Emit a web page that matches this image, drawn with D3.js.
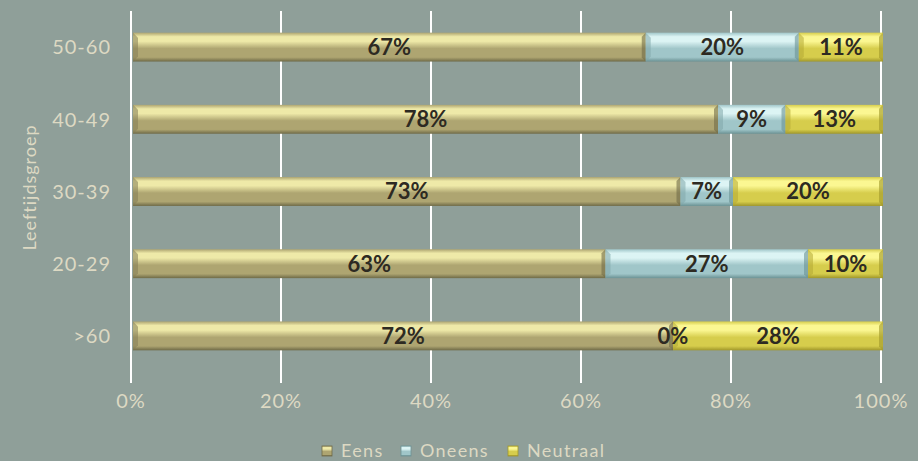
<!DOCTYPE html>
<html>
<head>
<meta charset="utf-8">
<script src="https://cdn.jsdelivr.net/npm/d3@7"></script>
<style>
  html, body { margin: 0; padding: 0; background: #8f9f99; }
  svg { display: block; }
  text { font-family: "Lato", "Open Sans", sans-serif; }
</style>
</head>
<body>
<svg id="chart" width="918" height="461"></svg>
<script>
// Age groups, top to bottom
const categories = ["50-60", "40-49", "30-39", "20-29", ">60"];
// Answers per age group (percent)
const eens     = [67, 78, 73, 63, 72];
const oneens   = [20,  9,  7, 27,  0];
const neutraal = [11, 13, 20, 10, 28];
const seriesNames = ["Eens", "Oneens", "Neutraal"];
const xTicks = [0, 0.2, 0.4, 0.6, 0.8, 1];
const axisTitle = "Leeftijdsgroep";

const palette = {
  Eens:     { top: "#eee9a8", mid: "#aea571", bot: "#6f6a47", edge: "#857e55" },
  Oneens:   { top: "#dcf4f4", mid: "#a0c6c9", bot: "#6b9294", edge: "#82a8aa" },
  Neutraal: { top: "#fbf792", mid: "#d6cd4c", bot: "#a0972a", edge: "#b4aa34" }
};

const rows = categories.map((c, i) => ({ cat: c, Eens: eens[i], Oneens: oneens[i], Neutraal: neutraal[i] }));
const stacked = d3.stack().keys(seriesNames).offset(d3.stackOffsetExpand)(rows);

const svg = d3.select("#chart");
const margin = { left: 132, right: 36, top: 11, bottom: 89 };
const W = 918, H = 461;

const x = d3.scaleLinear().domain([0, 1]).range([margin.left, W - margin.right]);
const y = d3.scaleBand().domain(categories).range([margin.top, H - margin.bottom]).paddingInner(0.6).paddingOuter(0.3);

// gradients
const defs = svg.append("defs");
seriesNames.forEach(k => {
  const g = defs.append("linearGradient").attr("id", "g-" + k)
    .attr("x1", 0).attr("y1", 0).attr("x2", 0).attr("y2", 1);
  const p = palette[k];
  g.append("stop").attr("offset", "0%").attr("stop-color", p.mid);
  g.append("stop").attr("offset", "14%").attr("stop-color", p.top);
  g.append("stop").attr("offset", "30%").attr("stop-color", p.top);
  g.append("stop").attr("offset", "55%").attr("stop-color", p.mid);
  g.append("stop").attr("offset", "85%").attr("stop-color", p.mid);
  g.append("stop").attr("offset", "100%").attr("stop-color", p.bot);
});

// grid lines
svg.append("g").selectAll("line").data(xTicks).join("line")
  .attr("x1", d => x(d) - 1).attr("x2", d => x(d) - 1)
  .attr("y1", margin.top).attr("y2", H - margin.bottom + 11)
  .attr("stroke", "#ffffff").attr("stroke-width", 2);

// bars
const bh = y.bandwidth();
const layer = svg.append("g").selectAll("g").data(stacked).join("g");
layer.each(function(s) {
  const k = s.key, p = palette[k];
  const g = d3.select(this);
  const segs = s.filter(d => d[1] - d[0] > 0);
  g.selectAll("rect.bar").data(segs).join("rect").attr("class", "bar")
    .attr("x", d => x(d[0]) + 1).attr("width", d => x(d[1]) - x(d[0]))
    .attr("y", d => y(d.data.cat)).attr("height", bh)
    .attr("fill", `url(#g-${k})`);
  // bevelled left and right edges
  g.selectAll("path.bevel-l").data(segs).join("path").attr("class", "bevel-l")
    .attr("d", d => {
      const x0 = x(d[0]) + 1, y0 = y(d.data.cat), e = 5;
      return `M${x0},${y0}L${x0 + e},${y0 + e}L${x0 + e},${y0 + bh - e}L${x0},${y0 + bh}Z`;
    })
    .attr("fill", p.edge).attr("opacity", 0.55);
  g.selectAll("path.bevel-r").data(segs).join("path").attr("class", "bevel-r")
    .attr("d", d => {
      const x1 = x(d[1]) + 1, y0 = y(d.data.cat), e = 4;
      return `M${x1},${y0}L${x1 - e},${y0 + e}L${x1 - e},${y0 + bh - e}L${x1},${y0 + bh}Z`;
    })
    .attr("fill", p.bot).attr("opacity", 0.6);
});

// value labels, above all bars
const labels = svg.append("g").selectAll("g").data(stacked).join("g");
labels.each(function(s) {
  const k = s.key;
  d3.select(this).selectAll("text").data(s).join("text")
    .attr("x", d => x((d[0] + d[1]) / 2) + 1)
    .attr("y", d => y(d.data.cat) + bh / 2)
    .attr("dy", "0.36em")
    .attr("text-anchor", "middle")
    .attr("font-size", 22).attr("font-weight", 700)
    .attr("fill", "#2d2a22")
    .text(d => d.data[k] + "%");
});

// category axis labels
svg.append("g").selectAll("text").data(categories).join("text")
  .attr("x", 111).attr("y", d => y(d) + bh / 2).attr("dy", "0.36em")
  .attr("text-anchor", "end").attr("font-size", 20).attr("letter-spacing", 1)
  .attr("fill", "#ddd9c3")
  .text(d => d);

// percent axis labels
const fmt = d3.format(".0%");
svg.append("g").selectAll("text").data(xTicks).join("text")
  .attr("x", d => x(d) - 1).attr("y", 401).attr("dy", "0.36em")
  .attr("text-anchor", "middle").attr("font-size", 20).attr("letter-spacing", 1)
  .attr("fill", "#ddd9c3")
  .text(d => fmt(d));

// axis title
svg.append("text")
  .attr("transform", `translate(30,${(margin.top + H - margin.bottom) / 2 - 4}) rotate(-90)`)
  .attr("dy", "0.36em").attr("text-anchor", "middle")
  .attr("font-size", 18).attr("letter-spacing", 1).attr("fill", "#ddd9c3")
  .text(axisTitle);

// legend
const legendX = [322, 401, 508];
const lg = svg.append("g").selectAll("g").data(seriesNames).join("g")
  .attr("transform", (d, i) => `translate(${legendX[i]},451)`);
lg.append("rect").attr("x", 0).attr("y", -5).attr("width", 10).attr("height", 10)
  .attr("fill", d => `url(#g-${d})`).attr("stroke", d => palette[d].bot).attr("stroke-width", 0.8);
lg.append("text").attr("x", 19).attr("y", 0).attr("dy", "0.36em")
  .attr("font-size", 18).attr("letter-spacing", 1.3).attr("fill", "#ddd9c3").text(d => d);
</script>
</body>
</html>
